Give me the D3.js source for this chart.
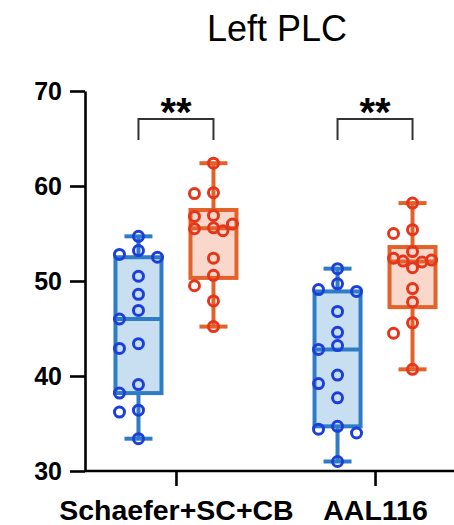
<!DOCTYPE html>
<html>
<head>
<meta charset="utf-8">
<script src="https://cdn.jsdelivr.net/npm/d3@7"></script>
<style>
  body { margin: 0; background: #fff; }
  svg text { font-family: "Liberation Sans", Arial, sans-serif; }
</style>
</head>
<body>
<div id="chart"></div>
<script>
// atlas groups on the x axis, two conditions per group
const atlases = ['Schaefer+SC+CB', 'AAL116'];
const conditions = ['blue', 'orange'];

// Left PLC values
const schaeferBlue = [54.7, 53.2, 52.8, 52.5, 50.5, 48.6, 46.9, 46.0, 43.4, 42.9, 39.1, 38.2, 36.4, 36.2, 33.4];
const schaeferOrange = [62.4, 59.3, 59.2, 56.8, 56.9, 55.5, 55.3, 55.6, 56.0, 52.4, 50.6, 49.5, 47.9, 45.2];
const aalBlue = [51.3, 49.7, 48.9, 49.1, 46.8, 44.6, 43.2, 42.8, 40.1, 39.2, 37.7, 34.7, 34.4, 34.0, 31.0];
const aalOrange = [58.2, 55.4, 55.0, 53.1, 52.1, 51.4, 52.2, 52.4, 52.0, 49.2, 47.8, 45.6, 44.5, 40.7];

const yTicks = [30, 40, 50, 60, 70];
const sigLabels = ['**', '**'];

const width = 454, height = 525;
const colors = {
  blue: { box: '#2f7cc6', fill: '#c8dff2', pt: '#1c3fdc' },
  orange: { box: '#e2622a', fill: '#f9d8cb', pt: '#e5351a' }
};

const series = [
  { atlas: atlases[0], cond: 'blue', values: schaeferBlue },
  { atlas: atlases[0], cond: 'orange', values: schaeferOrange },
  { atlas: atlases[1], cond: 'blue', values: aalBlue },
  { atlas: atlases[1], cond: 'orange', values: aalOrange }
];

const svg = d3.select('#chart').append('svg')
  .attr('width', width).attr('height', height);

const x = d3.scalePoint().domain(atlases).range([85, 466]).padding(0.457);
const dx = d3.scalePoint().domain(conditions).range([-37.5, 37.5]);
const y = d3.scaleLinear().domain([30, 70]).range([471, 91]);

// quartiles like GraphPad (n+1 method)
function quant(sorted, p) {
  const n = sorted.length;
  let pos = p * (n + 1);
  if (pos <= 1) return sorted[0];
  if (pos >= n) return sorted[n - 1];
  const lo = Math.floor(pos);
  return sorted[lo - 1] + (pos - lo) * (sorted[lo] - sorted[lo - 1]);
}

// title
svg.append('text')
  .attr('x', 277).attr('y', 41)
  .attr('text-anchor', 'middle')
  .style('font-size', '36px')
  .text('Left PLC');

// axes
const yAxis = svg.append('g')
  .attr('transform', 'translate(85,0)')
  .call(d3.axisLeft(y).tickValues(yTicks).tickSizeInner(15).tickSizeOuter(0).tickPadding(8));

const xAxis = svg.append('g')
  .attr('transform', 'translate(0,471)')
  .call(d3.axisBottom(x).tickSizeInner(15).tickSizeOuter(0).tickPadding(14));

xAxis.select('.domain').attr('d', 'M85,0H' + width);

svg.selectAll('.domain, .tick line')
  .attr('stroke', '#000').attr('stroke-width', 2.6);
yAxis.selectAll('.tick text')
  .style('font-size', '25px').style('font-weight', 'bold').attr('fill', '#000');
xAxis.selectAll('.tick text')
  .style('font-size', '28.5px').style('font-weight', 'bold').attr('fill', '#000');

const boxW = 46, capW = 28;

series.forEach(s => {
  const sorted = s.values.slice().sort(d3.ascending);
  const q1 = quant(sorted, 0.25), med = quant(sorted, 0.5), q3 = quant(sorted, 0.75);
  const lo = sorted[0], hi = sorted[sorted.length - 1];
  const cx = x(s.atlas) + dx(s.cond);
  const c = colors[s.cond];
  const g = svg.append('g');

  // whiskers
  g.append('line').attr('x1', cx).attr('x2', cx).attr('y1', y(hi)).attr('y2', y(lo))
    .attr('stroke', c.box).attr('stroke-width', 4);
  [lo, hi].forEach(v => {
    g.append('line').attr('x1', cx - capW / 2).attr('x2', cx + capW / 2)
      .attr('y1', y(v)).attr('y2', y(v))
      .attr('stroke', c.box).attr('stroke-width', 4);
  });
  // box
  g.append('rect')
    .attr('x', cx - boxW / 2).attr('width', boxW)
    .attr('y', y(q3)).attr('height', y(q1) - y(q3))
    .attr('fill', c.fill).attr('stroke', c.box).attr('stroke-width', 4);
  g.append('line').attr('x1', cx - boxW / 2).attr('x2', cx + boxW / 2)
    .attr('y1', y(med)).attr('y2', y(med))
    .attr('stroke', c.box).attr('stroke-width', 4);

  // swarm: try a few offsets, keep the first that does not collide,
  // otherwise the least crowded one (points may overlap a bit)
  const tries = [0, -19, 19, -9.5, 9.5];
  const minGap = 12;
  const placed = [];
  sorted.slice().reverse().forEach(v => {
    const py = y(v);
    let best = 0, bestD = -1;
    for (const t of tries) {
      const d = placed.length ? d3.min(placed, p => Math.hypot(p.ox - t, p.py - py)) : Infinity;
      if (d >= minGap) { best = t; bestD = Infinity; break; }
      if (d > bestD) { bestD = d; best = t; }
    }
    placed.push({ ox: best, py });
  });

  g.selectAll('circle.pt').data(placed).enter().append('circle')
    .attr('class', 'pt')
    .attr('cx', d => cx + d.ox)
    .attr('cy', d => d.py)
    .attr('r', 5)
    .attr('fill', 'none')
    .attr('stroke', c.pt)
    .attr('stroke-width', 3);
});

// significance brackets
atlases.forEach((a, i) => {
  const x1 = x(a) + dx('blue'), x2 = x(a) + dx('orange');
  svg.append('path')
    .attr('d', `M${x1},140V119H${x2}V140`)
    .attr('fill', 'none').attr('stroke', '#333').attr('stroke-width', 2);
  svg.append('text')
    .attr('x', (x1 + x2) / 2).attr('y', 126)
    .attr('text-anchor', 'middle')
    .style('font-size', '40px').style('font-weight', 'bold')
    .text(sigLabels[i]);
});
</script>
</body>
</html>
